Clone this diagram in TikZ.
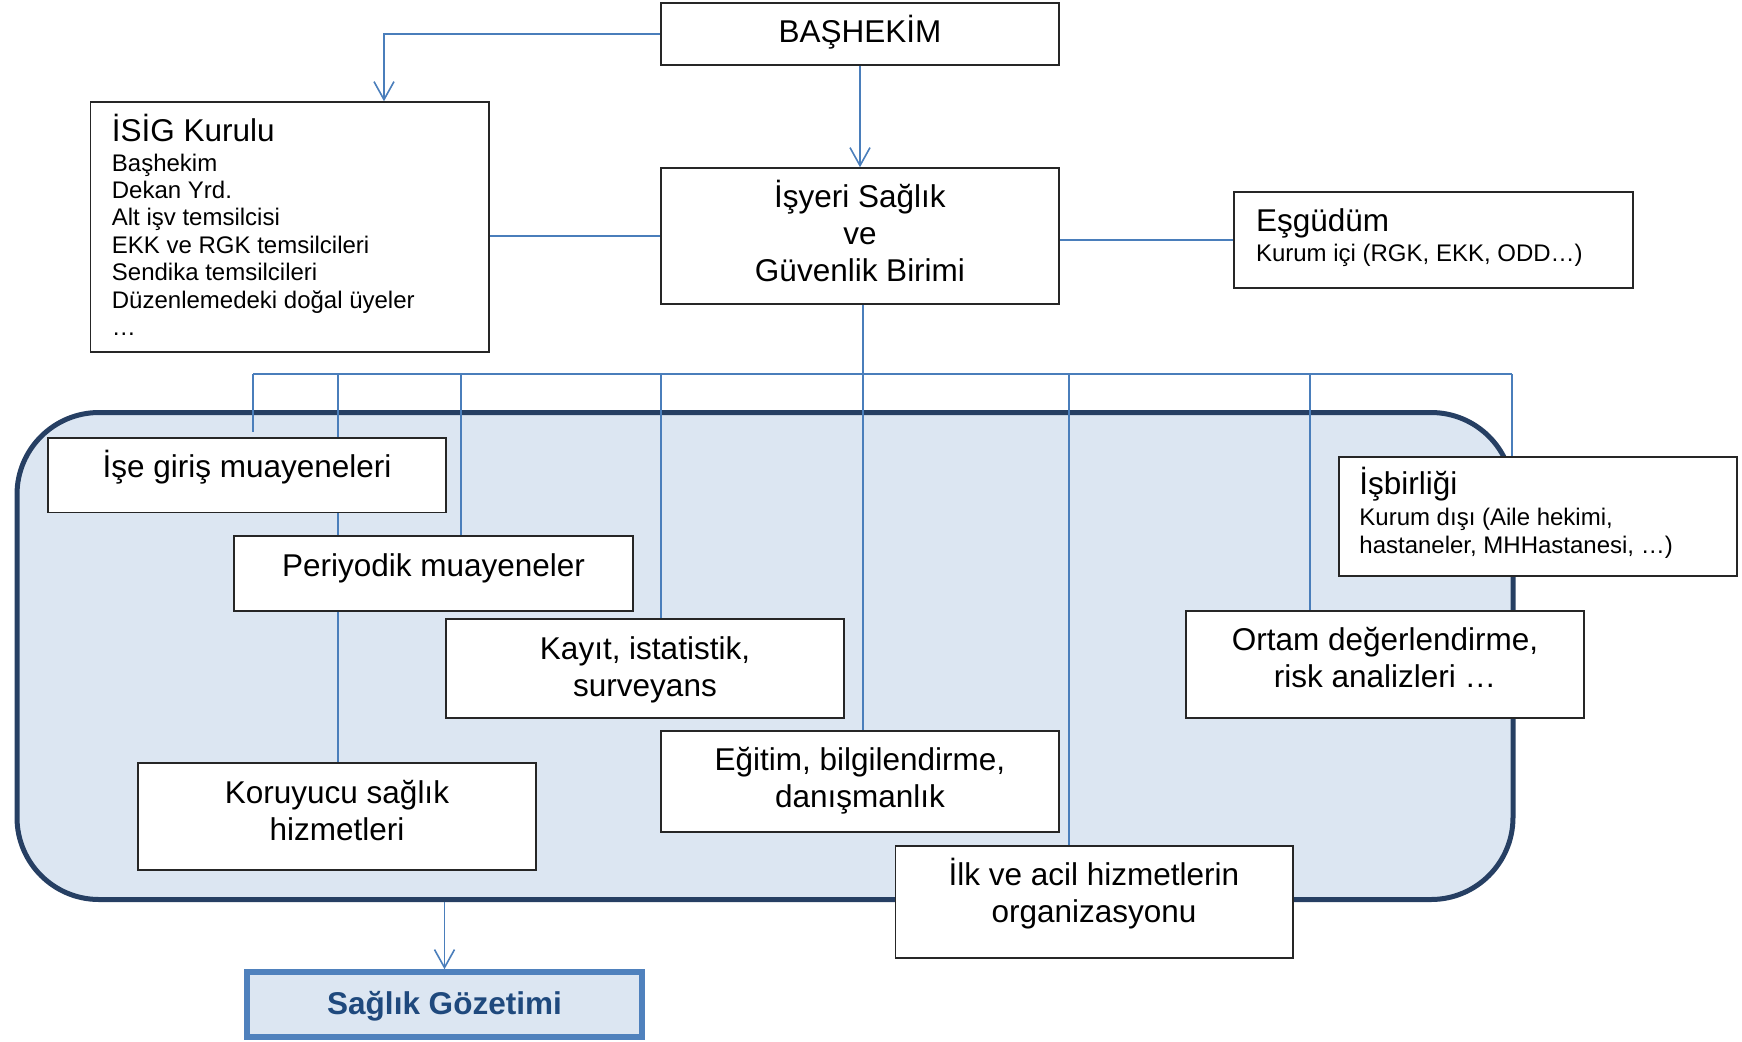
\documentclass[tikz,border=0pt]{standalone}
\usepackage{fontspec}
\setmainfont{Liberation Sans}
\usetikzlibrary{fit,arrows.meta}
\pgfdeclarelayer{bgA}
\pgfdeclarelayer{bgB}
\pgfsetlayers{bgA,bgB,main}
\definecolor{connc}{HTML}{4A7EBB}
\definecolor{framec}{HTML}{263F63}
\definecolor{framefill}{HTML}{DCE6F2}
\definecolor{sagborder}{HTML}{4F81BD}
\definecolor{sagtext}{HTML}{1F497D}
\begin{document}
\begin{tikzpicture}[x=0.5pt,y=-0.5pt,
  box/.style={rectangle,draw=black!85,line width=0.75pt,fill=white,inner sep=0pt},
  frameb/.style={rectangle,draw=framec,line width=2.5pt,fill=framefill,rounded corners=41pt,inner sep=0pt},
  sagbox/.style={rectangle,draw=sagborder,line width=2.8pt,fill=framefill,inner sep=0pt},
  big/.style={font=\fontsize{15.75}{18.5}\selectfont,anchor=base,inner sep=0pt},
  ttl/.style={font=\fontsize{15.75}{18.5}\selectfont,anchor=base west,inner sep=0pt},
  sub/.style={font=\fontsize{12}{14}\selectfont,anchor=base west,inner sep=0pt},
  cline/.style={draw=connc,line width=0.8pt},
  carrow/.style={cline,-{Straight Barb[length=9pt,width=10pt]}}]
\useasboundingbox (0,0) rectangle (1742,1041);

\begin{pgfonlayer}{bgA}
\node[frameb,fit={(17,412.5) (1513,899.5)}] (frame) {};
\end{pgfonlayer}

% boxes
\node[box,fit={(661,3) (1059,65)}] (bas) {};
\node[box,fit={(90.5,102) (489,352)}] (isig) {};
\node[box,fit={(661,168) (1059,304)}] (isy) {};
\node[box,fit={(1234,192) (1633,288)}] (esg) {};
\node[box,fit={(1339,457) (1737,576)}] (isb) {};
\node[box,fit={(48,438) (446,512.5)}] (ise) {};
\node[box,fit={(234,536) (633,611)}] (per) {};
\node[box,fit={(446,619) (844,718)}] (kay) {};
\node[box,fit={(661,731) (1059,832)}] (egi) {};
\node[box,fit={(138,763) (536,870)}] (kor) {};
\node[box,fit={(895.5,846) (1293,958)}] (ilk) {};
\node[box,fit={(1186,611) (1584,718)}] (ort) {};
\node[sagbox,fit={(247,972) (642,1037)}] (sag) {};

% connectors
\coordinate (k1) at (384,0);
\coordinate (busL) at (253,374);
\coordinate (busR) at (1512,374);
\coordinate (iseStub) at (253,432);
\coordinate (b1) at (338,374);
\coordinate (b2) at (461,374);
\coordinate (b3) at (661,374);
\coordinate (b4) at (1069,374);
\coordinate (b5) at (1310,374);
\begin{pgfonlayer}{bgB}
\draw[carrow] (bas.west) -| (k1 |- isig.north);
\draw[carrow] (bas.south) -- (isy.north);
\draw[cline] (isy.west) -- (isy.west -| isig.east);
\draw[cline] (isy.east |- esg.west) -- (esg.west);
\draw[cline] (busL) -- (busR);
\draw[cline] (busL) -- (iseStub);
\draw[cline] ([xshift=1.5pt]isy.south) -- ([xshift=1.5pt]egi.north);
\draw[cline] (b1) -- (b1 |- kor.north);
\draw[cline] (b2) -- (b2 |- per.north);
\draw[cline] (b3) -- (b3 |- kay.north);
\draw[cline] (b4) -- (b4 |- ilk.north);
\draw[cline] (b5) -- (b5 |- ort.north);
\draw[cline] (busR) -- (busR |- isb.north);
\draw[carrow] (frame.south -| sag.north) -- (sag.north);
\end{pgfonlayer}

% texts
\node[big] (bas-t) at (860,42.7) {BAŞHEKİM};
\node[big] (isy-1) at (860,207) {İşyeri Sağlık};
\node[big] (isy-2) at (860,244) {ve};
\node[big] (isy-3) at (860,281.5) {Güvenlik Birimi};
\node[ttl] (esg-t) at (1255.6,231.7) {Eşgüdüm};
\node[sub] (esg-1) at (1255.6,261.7) {Kurum içi (RGK, EKK, ODD…)};
\node[ttl] (isig-t) at (111.5,141) {İSİG Kurulu};
\foreach \t [count=\i] in {Başhekim,Dekan Yrd.,Alt işv temsilcisi,EKK ve RGK temsilcileri,Sendika temsilcileri,Düzenlemedeki doğal üyeler,…}
  \node[sub] (isig-\i) at (111.5,{143.6+27.4*\i}) {\t};
\node[ttl] (isb-t) at (1359,494) {İşbirliği};
\node[sub] (isb-1) at (1359,525) {Kurum dışı (Aile hekimi,};
\node[sub] (isb-2) at (1359,553) {hastaneler, MHHastanesi, …)};
\node[big] (ise-t) at (247,477) {İşe giriş muayeneleri};
\node[big] (per-t) at (433.5,576) {Periyodik muayeneler};
\node[big] (kay-1) at (645,659.7) {Kayıt, istatistik,};
\node[big] (kay-2) at (645,696.7) {surveyans};
\node[big] (egi-1) at (860,770.5) {Eğitim, bilgilendirme,};
\node[big] (egi-2) at (860,807.5) {danışmanlık};
\node[big] (kor-1) at (337,803) {Koruyucu sağlık};
\node[big] (kor-2) at (337,840) {hizmetleri};
\node[big] (ilk-1) at (1094,885) {İlk ve acil hizmetlerin};
\node[big] (ilk-2) at (1094,922) {organizasyonu};
\node[big] (ort-1) at (1385,650) {Ortam değerlendirme,};
\node[big] (ort-2) at (1385,687) {risk analizleri …};
\node[big,text=sagtext,font=\fontsize{15.75}{18.5}\selectfont\bfseries] (sag-t) at (444.5,1014) {Sağlık Gözetimi};
\end{tikzpicture}
\end{document}
